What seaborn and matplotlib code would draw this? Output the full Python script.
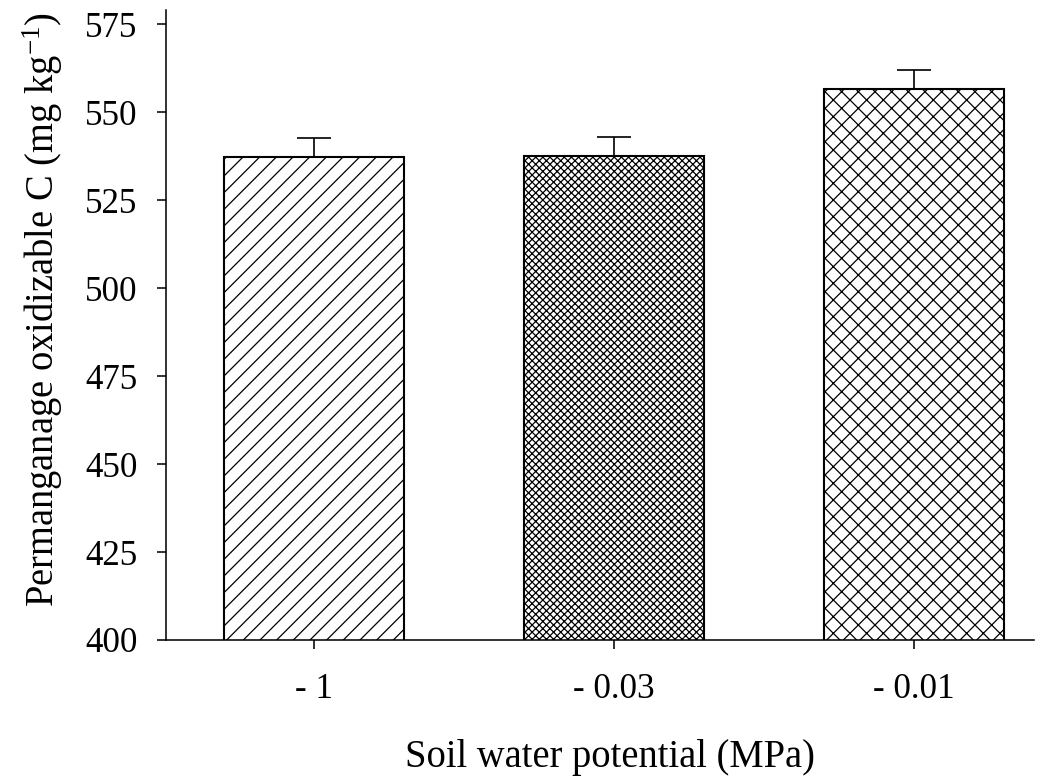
import matplotlib
matplotlib.use("Agg")
import matplotlib.pyplot as plt
import seaborn as sns
import pandas as pd

categories = ["- 1", "- 0.03", "- 0.01"]
values = [537.3, 537.6, 556.6]
errors = [5.4, 5.4, 5.4]
yticks = [400, 425, 450, 475, 500, 525, 550, 575]

sns.set_theme(style="ticks")
plt.rcParams["font.family"] = ["Liberation Serif", "DejaVu Serif"]
plt.rcParams["mathtext.fontset"] = "custom"
plt.rcParams["mathtext.rm"] = "Liberation Serif"
plt.rcParams["mathtext.default"] = "regular"
plt.rcParams["hatch.linewidth"] = 0.6

DPI = 150
fig = plt.figure(figsize=(1056 / DPI, 778 / DPI), dpi=DPI)
ax = fig.add_axes([166 / 1056, 1 - 640 / 778, (1034 - 166) / 1056, (640 - 10) / 778])

df = pd.DataFrame({"cat": categories, "val": values})
sns.barplot(data=df, x="cat", y="val", ax=ax, color="white", width=0.6,
            edgecolor="black", linewidth=1.0, saturation=1)
hatches = ["///", "xxxxxxx", "xxx"]
for p, h in zip(ax.patches, hatches):
    p.set_hatch(h)
    p.set_facecolor("white")

ax.errorbar(range(len(categories)), values, yerr=[[0] * len(errors), errors],
            fmt="none", ecolor="black", elinewidth=0.8, capsize=8, capthick=0.8)

ax.set_ylim(400, 579)
ax.set_xlim(-0.493, 2.4)
ax.set_yticks(yticks)
ax.set_yticklabels([str(t) for t in yticks])
sns.despine(ax=ax)
for s in ["left", "bottom"]:
    ax.spines[s].set_linewidth(0.75)
    ax.spines[s].set_color("black")
ax.tick_params(axis="both", direction="out", length=4.3, width=0.75, colors="black",
               labelsize=16.8)
ax.tick_params(axis="y", pad=9.5)
ax.tick_params(axis="x", pad=11.5)
ax.set_xlabel("Soil water potential (MPa)", fontsize=18.5, labelpad=16, color="black")
ax.set_ylabel("Permanganage oxidizable C (mg kg$^{-1}$)", fontsize=18.5, labelpad=9.5, color="black")
ax.xaxis.label.set_x(0.5115)
ax.yaxis.label.set_y(0.524)

fig.savefig("out.png", dpi=DPI)
